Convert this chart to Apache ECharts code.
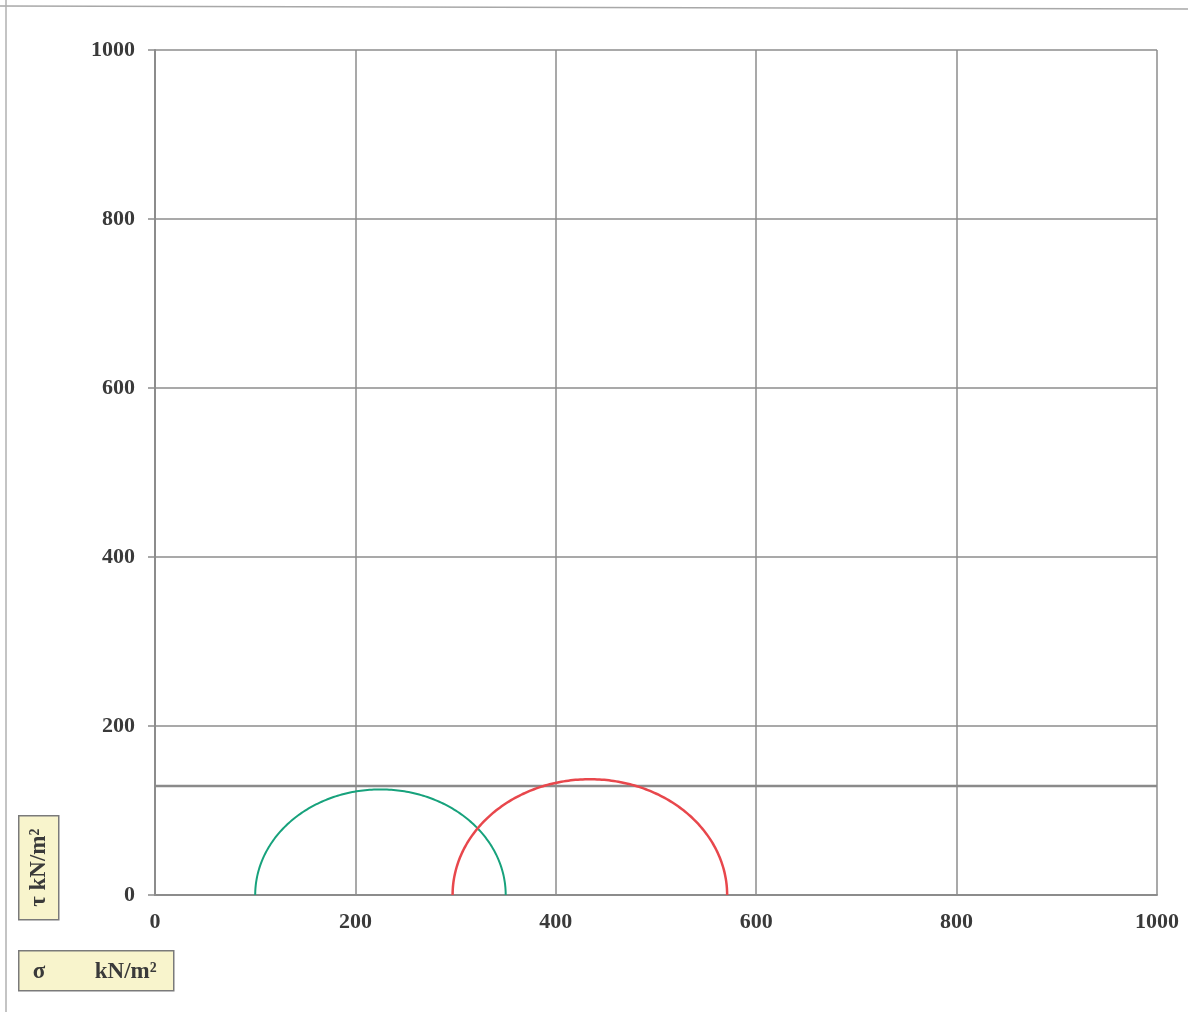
<!DOCTYPE html>
<html>
<head>
<meta charset="utf-8">
<script src="https://cdn.jsdelivr.net/npm/echarts@6/dist/echarts.min.js"></script>
<style>
html,body{margin:0;padding:0;background:#fff;}
#chart{width:1188px;height:1012px;}
</style>
</head>
<body>
<div id="chart"></div>
<script>
// Mohr circles: minor and major principal stresses (kN/m2)
const sigma3 = [100, 297];
const sigma1 = [350, 571];
const circleColors = ['#17a27c', '#e8474c'];
// Failure envelope (undrained cohesion, kN/m2)
const envelopeSigma = [0, 1000];
const envelopeTau = [129, 129];
// Axis ticks
const xTicks = [0, 200, 400, 600, 800, 1000];
const yTicks = [0, 200, 400, 600, 800, 1000];

const circleData = sigma3.map((s3, i) => [s3, sigma1[i], i]);
const envelopeData = envelopeSigma.map((s, i) => [s, envelopeTau[i]]);

const labelFont = {
  fontFamily: '"Liberation Serif","DejaVu Serif",serif',
  fontWeight: 'bold',
  fontSize: 22,
  color: '#3a3a3a',
  formatter: function (v) { return String(v); }
};

const chart = echarts.init(document.getElementById('chart'));
chart.setOption({
  animation: false,
  backgroundColor: '#ffffff',
  grid: {left: 155, right: 31, top: 50, bottom: 117, containLabel: false},
  xAxis: {
    type: 'value',
    min: xTicks[0], max: xTicks[xTicks.length - 1], interval: 200,
    axisLine: {show: true, lineStyle: {color: '#8c8c8c', width: 2}},
    axisTick: {show: false},
    axisLabel: Object.assign({margin: 16}, labelFont),
    splitLine: {show: true, lineStyle: {color: '#8c8c8c', width: 1.5}}
  },
  yAxis: {
    type: 'value',
    min: yTicks[0], max: yTicks[yTicks.length - 1], interval: 200,
    axisLine: {show: true, lineStyle: {color: '#8c8c8c', width: 2}},
    axisTick: {show: true, length: 7, lineStyle: {color: '#8c8c8c', width: 1.5}},
    axisLabel: Object.assign({margin: 20}, labelFont),
    splitLine: {show: true, lineStyle: {color: '#8c8c8c', width: 1.5}}
  },
  series: [
    {
      type: 'line',
      data: envelopeData,
      showSymbol: false,
      lineStyle: {color: '#8a8a8a', width: 2.5},
      z: 3
    },
    {
      type: 'custom',
      data: circleData,
      z: 4,
      renderItem: function (params, api) {
        const s3 = api.value(0), s1 = api.value(1), idx = api.value(2);
        const c = (s3 + s1) / 2, r = (s1 - s3) / 2;
        const pts = [];
        const n = 180;
        for (let k = 0; k <= n; k++) {
          const a = Math.PI - Math.PI * k / n;
          pts.push(api.coord([c + r * Math.cos(a), r * Math.sin(a)]));
        }
        return {
          type: 'polyline',
          shape: {points: pts},
          style: {fill: null, stroke: circleColors[idx], lineWidth: idx === 1 ? 2.5 : 2}
        };
      }
    }
  ],
  graphic: [
    {type: 'line', shape: {x1: 0, y1: 6, x2: 1188, y2: 9}, style: {stroke: '#a8a8a8', lineWidth: 1.5}},
    {type: 'line', shape: {x1: 6, y1: 0, x2: 6, y2: 1012}, style: {stroke: '#b0b0b0', lineWidth: 1.5}},
    {
      type: 'group', left: 18, top: 815,
      children: [
        {type: 'rect', shape: {x: 0, y: 0, width: 40, height: 104}, style: {fill: '#f8f4cc', stroke: '#7a7a7a', lineWidth: 1.5}},
        {type: 'text', x: 20, y: 52, rotation: Math.PI / 2,
          style: {text: 'τ kN/m²', fill: '#3a3a3a', font: 'bold 23px "Liberation Serif", serif', align: 'center', verticalAlign: 'middle'}}
      ]
    },
    {
      type: 'group', left: 18, top: 950,
      children: [
        {type: 'rect', shape: {x: 0, y: 0, width: 155, height: 40}, style: {fill: '#f8f4cc', stroke: '#7a7a7a', lineWidth: 1.5}},
        {type: 'text', x: 14, y: 21, style: {text: 'σ', fill: '#3a3a3a', font: 'bold 23px "Liberation Serif", serif', verticalAlign: 'middle'}},
        {type: 'text', x: 76, y: 21, style: {text: 'kN/m²', fill: '#3a3a3a', font: 'bold 23px "Liberation Serif", serif', verticalAlign: 'middle'}}
      ]
    }
  ]
});
</script>
</body>
</html>
